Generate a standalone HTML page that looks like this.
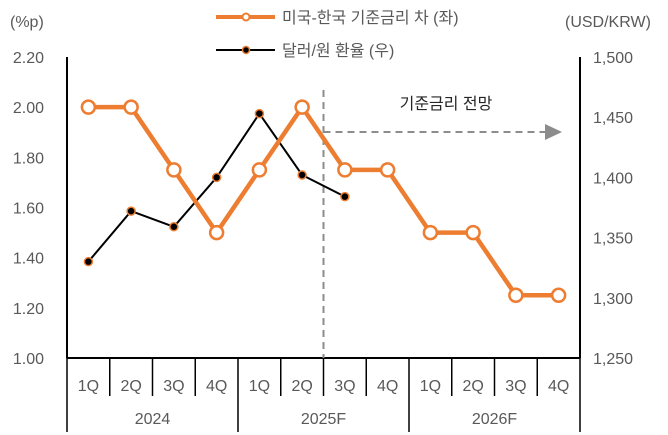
<!DOCTYPE html>
<html><head><meta charset="utf-8"><style>
body{margin:0;background:#fff}
svg{display:block;font-family:"Liberation Sans","Noto Sans CJK KR",sans-serif}
</style></head><body>
<svg id="c" width="668" height="435"></svg>
<script>
const categories=["1Q","2Q","3Q","4Q","1Q","2Q","3Q","4Q","1Q","2Q","3Q","4Q"];
const years=["2024","2025F","2026F"];
const rateValues=[2.00,2.00,1.75,1.50,1.75,2.00,1.75,1.75,1.50,1.50,1.25,1.25];
const fxValues=[1330,1372,1359,1400,1453,1402,1384];
const leftTicks=["1.00","1.20","1.40","1.60","1.80","2.00","2.20"];
const rightTicks=["1,250","1,300","1,350","1,400","1,450","1,500"];
const NS="http://www.w3.org/2000/svg";
const svg=document.getElementById('c');
const X0=67,X1=580,Y0=358,Y1=57;
const bw=(X1-X0)/categories.length;
const xc=i=>X0+bw*(i+0.5);
const yL=v=>Y0-(v-1.0)/(2.2-1.0)*(Y0-Y1);
const yR=v=>Y0-(v-1250)/(1500-1250)*(Y0-Y1);
function el(t,a,txt){const e=document.createElementNS(NS,t);for(const k in a)e.setAttribute(k,a[k]);if(txt!=null)e.textContent=txt;svg.appendChild(e);return e;}
const g='#595959';
// axes
let e=el('line',{x1:X0,y1:Y1,x2:X0,y2:Y0,stroke:'#000','stroke-width':2});


e=el('line',{x1:X1,y1:Y1,x2:X1,y2:Y0,stroke:'#000','stroke-width':2});


e=el('line',{x1:X0,y1:Y0,x2:X1,y2:Y0,stroke:'#000','stroke-width':2});


leftTicks.forEach(t=>{e=el('text',{x:44,y:yL(+t)+6,'text-anchor':'end','font-size':16,fill:g},t);

});
rightTicks.forEach(t=>{e=el('text',{x:593,y:yR(+t.replace(',',''))+6,'font-size':16,fill:g},t);

});
e=el('text',{x:10,y:27,'font-size':16,fill:g},'(%p)');


e=el('text',{x:565,y:27,'font-size':16,fill:g},'(USD/KRW)');


// category ticks
for(let i=0;i<=categories.length;i++){const x=X0+bw*i;const long=i%4==0;
e=el('line',{x1:x,y1:Y0,x2:x,y2:long?432:396,stroke:'#000','stroke-width':1.5});

}
categories.forEach((c,i)=>{e=el('text',{x:xc(i),y:391,'text-anchor':'middle','font-size':16,fill:g},c);

});
years.forEach((y,i)=>{e=el('text',{x:X0+bw*(4*i+2),y:424,'text-anchor':'middle','font-size':16,fill:g},y);

});
// forecast marker
const fx=X0+bw*6;
e=el('line',{x1:fx,y1:90,x2:fx,y2:Y0,stroke:'#8c8c8c','stroke-width':2,'stroke-dasharray':'7,5'});


e=el('line',{x1:fx,y1:132,x2:548,y2:132,stroke:'#8c8c8c','stroke-width':2,'stroke-dasharray':'7,5'});


e=el('polygon',{points:'545,124 562,132 545,140',fill:'#8c8c8c'});


e=el('text',{x:446,y:109,'text-anchor':'middle','font-size':16,fill:'#262626'},'기준금리 전망');


// fx line
e=el('polyline',{points:fxValues.map((v,i)=>xc(i)+','+yR(v)).join(' '),fill:'none',stroke:'#000','stroke-width':2});


// rate line
e=el('polyline',{points:rateValues.map((v,i)=>xc(i)+','+yL(v)).join(' '),fill:'none',stroke:'#ed7d31','stroke-width':4.5});


rateValues.forEach((v,i)=>{e=el('circle',{cx:xc(i),cy:yL(v),r:6.5,fill:'#fff',stroke:'#ed7d31','stroke-width':2.5});

});
fxValues.forEach((v,i)=>{e=el('circle',{cx:xc(i),cy:yR(v),r:4,fill:'#000',stroke:'#ed7d31','stroke-width':1.5});

});
// legend
e=el('line',{x1:216,y1:17,x2:275,y2:17,stroke:'#ed7d31','stroke-width':4});


e=el('circle',{cx:246,cy:17,r:3.5,fill:'#fff',stroke:'#ed7d31','stroke-width':2});


e=el('text',{x:282,y:23,'font-size':16,fill:g},'미국-한국 기준금리 차 (좌)');


e=el('line',{x1:216,y1:50,x2:275,y2:50,stroke:'#000','stroke-width':2});


e=el('circle',{cx:246,cy:50,r:3.5,fill:'#000',stroke:'#ed7d31','stroke-width':1.5});


e=el('text',{x:282,y:56,'font-size':16,fill:g},'달러/원 환율 (우)');


</script>
</body></html>
